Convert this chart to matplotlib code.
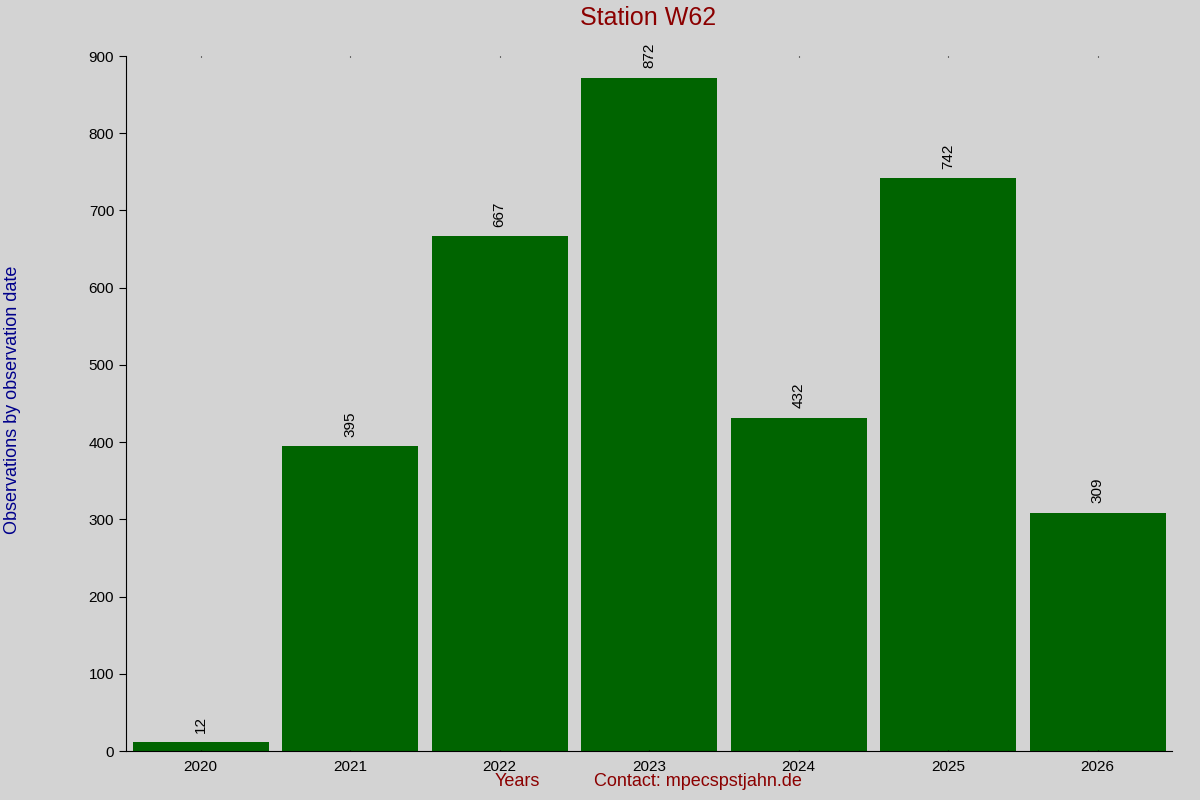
import matplotlib
matplotlib.use("Agg")
import matplotlib.pyplot as plt

years = ["2020", "2021", "2022", "2023", "2024", "2025", "2026"]
values = [12, 395, 667, 872, 432, 742, 309]

plt.rcParams['font.family'] = ['Liberation Sans', 'DejaVu Sans']
fig = plt.figure(figsize=(12, 8), dpi=100, facecolor='#d3d3d3')
ax = fig.add_axes([0.105, 0.061, 0.872, 0.869], facecolor='#d3d3d3')
x = list(range(len(years)))
bars = ax.bar(x, values, width=0.91, color='#006400')
for xi, v in zip(x, values):
    ax.text(xi, v + 12, str(v), rotation=90, ha='center', va='bottom', fontsize=11)
ax.set_xlim(-0.5, 6.5)
ax.set_ylim(0, 900)
ax.set_xticks(x)
ax.set_xticklabels(years, fontsize=11)
ax.set_yticks(range(0, 901, 100))
ax.tick_params(axis='y', labelsize=11, length=5)
ax.tick_params(axis='x', length=0, pad=6)
ax.tick_params(axis='x', top=True, direction='in', length=1)
for s in ['top', 'right']:
    ax.spines[s].set_visible(False)
fig.text(0.54, 0.977, "Station W62", color='#8b0000', fontsize=18, ha='center', va='center')
fig.text(0.003, 0.5, "Observations by observation date", rotation=90,
         color='#00008b', fontsize=13, ha='left', va='center')
fig.text(0.431, 0.012, "Years", color='#8b0000', fontsize=13, ha='center', va='bottom')
fig.text(0.582, 0.012, "Contact: mpecspstjahn.de", color='#8b0000', fontsize=13, ha='center', va='bottom')
fig.savefig("out.png", dpi=100, facecolor=fig.get_facecolor())
